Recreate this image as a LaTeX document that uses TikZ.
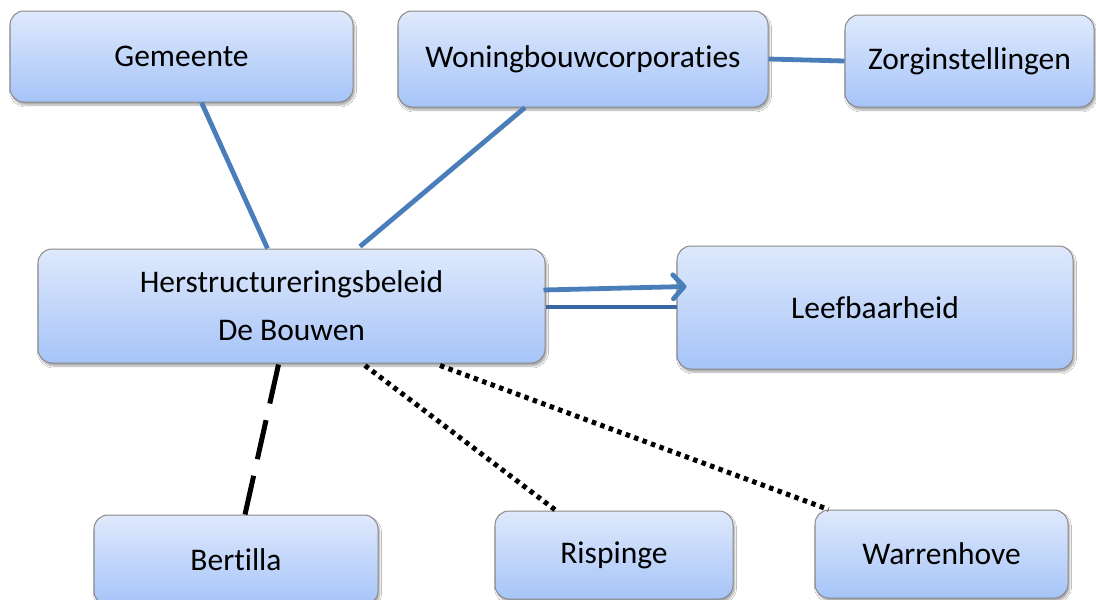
\documentclass[tikz,border=0pt]{standalone}
\usepackage{fontspec}
\setmainfont{Carlito}[RawFeature=-liga]
\usetikzlibrary{arrows.meta,shadows.blur}
\definecolor{boxtop}{HTML}{DFE9FC}
\definecolor{boxbot}{HTML}{A6C4F8}
\definecolor{boxline}{HTML}{8A8A8A}
\definecolor{linkblue}{HTML}{4A7EBB}
\definecolor{darkblue}{HTML}{3A66A2}
\tikzset{
  box/.style={draw=boxline, line width=1pt, rounded corners=14pt,
    top color=boxtop, bottom color=boxbot, inner sep=0pt, align=center,
    font=\fontsize{31.5}{48}\selectfont,
    blur shadow={shadow xshift=1.5pt, shadow yshift=-3pt, shadow blur steps=6, shadow opacity=35}},
  link/.style={draw=linkblue, line width=4.8pt},
  dotlink/.style={draw=black, line width=5pt, dash pattern=on 4.5pt off 4.5pt},
  dashlink/.style={draw=black, line width=5pt, dash pattern=on 40pt off 17pt},
}
\begin{document}
\begin{tikzpicture}[x=1pt,y=-1pt]
\clip (0,0) rectangle (1096,600);
\fill[white] (0,0) rectangle (1096,600);
\node[box, minimum width=343pt, minimum height=91pt] (gem) at (181.5,56.5) {Gemeente};
\node[box, minimum width=370pt, minimum height=96pt] (won) at (583,59) {Woningbouwcorporaties};
\node[box, minimum width=249pt, minimum height=92pt] (zorg) at (969.5,61) {Zorginstellingen};
\node[box, minimum width=507pt, minimum height=114pt] (her) at (291.5,306) {Herstructureringsbeleid\\De Bouwen};
\node[box, minimum width=396pt, minimum height=123pt] (leef) at (875,307.5) {Leefbaarheid};
\node[box, minimum width=284pt, minimum height=90pt] (bert) at (236,560) {Bertilla};
\node[box, minimum width=238pt, minimum height=88pt] (risp) at (614,555) {Rispinge};
\node[box, minimum width=253pt, minimum height=88pt] (warr) at (941.5,554) {Warrenhove};
\draw[link] ([xshift=20pt]gem.south) -- ([xshift=-24pt]her.north);
\draw[link] ([xshift=-58pt]won.south) -- ([xshift=68.5pt,yshift=2pt]her.north);
\draw[link] (won.east) -- (zorg.west);
\draw[link, -{Straight Barb[length=11pt,width=24pt,line cap=round,round]}] ([xshift=-2pt,yshift=16pt]her.east) -- ([xshift=10pt,yshift=21pt]leef.west);
\draw[draw=darkblue, line width=4.8pt] ([yshift=-1pt]her.east) -- ([yshift=0.5pt]leef.west);
\draw[dashlink] ([xshift=-13pt,yshift=-1pt]her.south) -- ([xshift=9pt]bert.north);
\draw[dotlink] ([xshift=73.5pt,yshift=-2pt]her.south) -- ([xshift=-58pt]risp.north);
\draw[dotlink] ([xshift=148.5pt,yshift=-2pt]her.south) -- ([xshift=-113pt]warr.north);
\end{tikzpicture}
\end{document}
